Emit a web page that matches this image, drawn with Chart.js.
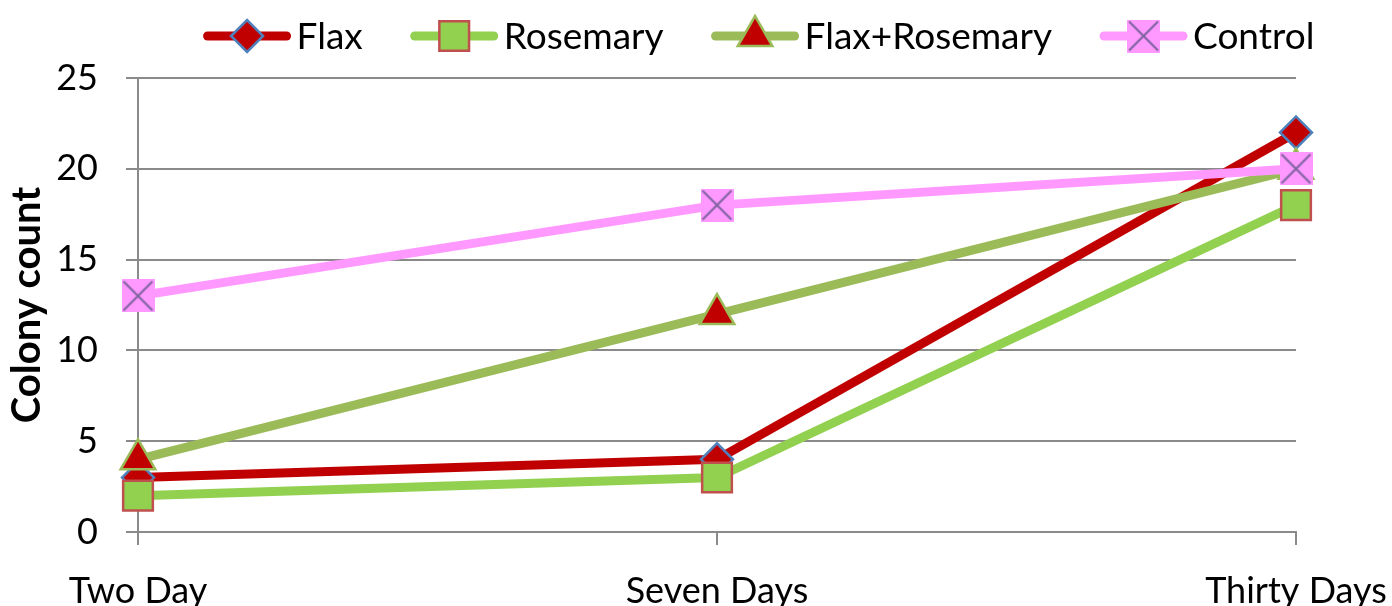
<!DOCTYPE html>
<html>
<head>
<meta charset="utf-8">
<script src="https://cdn.jsdelivr.net/npm/chart.js@4/dist/chart.umd.min.js"></script>
<style>
  html, body { margin: 0; padding: 0; background: #ffffff; }
  #wrap { width: 1392px; height: 606px; position: relative; }
</style>
</head>
<body>
<div id="wrap"><canvas id="c" width="1392" height="606"></canvas></div>
<script>
// Colony counts over the storage period
const categories = ['Two Day', 'Seven Days', 'Thirty Days'];
const flax = [3, 4, 22];
const rosemary = [2, 3, 18];
const flaxRosemary = [4, 12, 20];
const control = [13, 18, 20];
const yTicks = [0, 5, 10, 15, 20, 25];

const FONT = 'Lato, "Open Sans", sans-serif';
const GRID = '#8a8a8a';

// Pink box with a purple cross, used as the Control marker
function crossBox(size, fill, stroke) {
  const c = document.createElement('canvas');
  c.width = size; c.height = size;
  const g = c.getContext('2d');
  g.fillStyle = fill;
  g.fillRect(0, 0, size, size);
  g.strokeStyle = stroke;
  g.lineWidth = 2.2;
  g.beginPath();
  g.moveTo(2, 2); g.lineTo(size - 2, size - 2);
  g.moveTo(size - 2, 2); g.lineTo(2, size - 2);
  g.stroke();
  return c;
}
const controlMarker = crossBox(33, '#FF99FF', '#8064A2');

// Legend drawn as a line sample with the marker in its middle, then the label
const lineLegend = {
  id: 'lineLegend',
  afterDraw(chart) {
    const ctx = chart.ctx;
    const sets = chart.data.datasets;
    const sampleLen = 87, textGap = 6, itemGap = 48, cy = 36;
    ctx.save();
    ctx.font = '37px ' + FONT;
    const widths = sets.map(d => ctx.measureText(d.label).width);
    const total = widths.reduce((a, w) => a + sampleLen + textGap + w, 0) + itemGap * (sets.length - 1);
    let x = 759 - total / 2;
    sets.forEach((d, i) => {
      ctx.strokeStyle = d.borderColor;
      ctx.lineWidth = d.borderWidth;
      ctx.lineCap = 'round';
      ctx.beginPath();
      ctx.moveTo(x + 4, cy);
      ctx.lineTo(x + sampleLen - 4, cy);
      ctx.stroke();
      ctx.fillStyle = d.pointBackgroundColor;
      ctx.strokeStyle = d.pointBorderColor;
      ctx.lineWidth = d.pointBorderWidth;
      Chart.helpers.drawPoint(ctx, {
        pointStyle: d.pointStyle, radius: d.pointRadius,
        rotation: 0, borderWidth: d.pointBorderWidth
      }, x + sampleLen / 2, cy);
      ctx.fillStyle = '#000000';
      ctx.textBaseline = 'middle';
      ctx.textAlign = 'left';
      ctx.fillText(d.label, x + sampleLen + textGap, cy + 1);
      x += sampleLen + textGap + widths[i] + itemGap;
    });
    ctx.restore();
  }
};

new Chart(document.getElementById('c'), {
  type: 'line',
  data: {
    labels: categories,
    datasets: [
      {
        label: 'Flax', data: flax, order: 4,
        borderColor: '#C00000', borderWidth: 9,
        pointStyle: 'rectRot', pointRadius: 16,
        pointBackgroundColor: '#C00000', pointBorderColor: '#4F81BD', pointBorderWidth: 2.5
      },
      {
        label: 'Rosemary', data: rosemary, order: 3,
        borderColor: '#92D050', borderWidth: 9,
        pointStyle: 'rect', pointRadius: 21,
        pointBackgroundColor: '#92D050', pointBorderColor: '#C0504D', pointBorderWidth: 2.5
      },
      {
        label: 'Flax+Rosemary', data: flaxRosemary, order: 2,
        borderColor: '#9BBB59', borderWidth: 9,
        pointStyle: 'triangle', pointRadius: 20,
        pointBackgroundColor: '#C00000', pointBorderColor: '#9BBB59', pointBorderWidth: 2.5
      },
      {
        label: 'Control', data: control, order: 1,
        borderColor: '#FF99FF', borderWidth: 9,
        pointStyle: controlMarker, pointRadius: 16,
        pointBackgroundColor: '#FF99FF', pointBorderColor: '#8064A2', pointBorderWidth: 2
      }
    ]
  },
  options: {
    responsive: false,
    animation: false,
    events: [],
    tension: 0,
    clip: false,
    layout: { padding: { top: 78, right: 96, left: 0, bottom: 0 } },
    plugins: { legend: { display: false }, tooltip: { enabled: false } },
    elements: { line: { tension: 0, borderCapStyle: 'round', borderJoinStyle: 'round' } },
    scales: {
      x: {
        offset: false,
        grid: { drawOnChartArea: false, drawTicks: true, tickLength: 13, color: GRID, lineWidth: 2 },
        border: { display: true, color: GRID, width: 2 },
        ticks: { color: '#000000', font: { family: FONT, size: 36 }, padding: 25, maxRotation: 0, autoSkip: false },
        afterFit(s) { s.height = 74; s.paddingLeft = 0; s.paddingRight = 0; }
      },
      y: {
        min: 0, max: 25,
        afterBuildTicks(s) { s.ticks = yTicks.map(v => ({ value: v })); },
        grid: { color: GRID, lineWidth: 2, tickLength: 12, drawTicks: true },
        border: { display: true, color: GRID, width: 2 },
        ticks: { color: '#000000', font: { family: FONT, size: 36 }, padding: 28 },
        title: {
          display: true, text: 'Colony count', color: '#000000',
          font: { family: FONT, size: 40, weight: 'bold' },
          padding: { top: 3, bottom: 0 }
        },
        afterFit(s) { s.width = 138; s.paddingTop = 0; s.paddingBottom = 0; }
      }
    }
  },
  plugins: [lineLegend]
});
</script>
</body>
</html>
